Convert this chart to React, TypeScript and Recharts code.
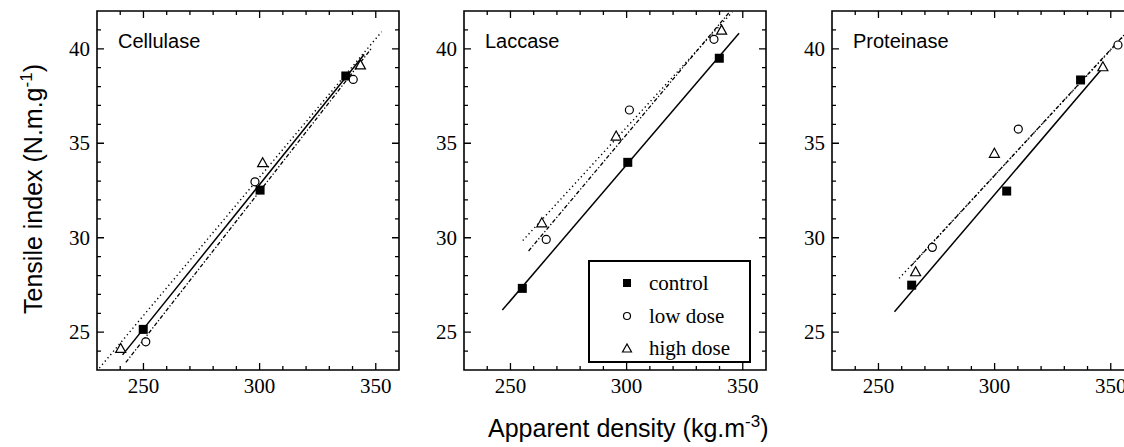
import React from 'react';
import { ComposedChart, Scatter, Line, XAxis, YAxis, Label, Legend, ReferenceArea } from 'recharts';

// axis ticks (minor every 10 / every 1, labels on majors)
const xTicks = [240, 250, 260, 270, 280, 290, 300, 310, 320, 330, 340, 350];
const xMajor = [250, 300, 350];
const yTicks = [24, 25, 26, 27, 28, 29, 30, 31, 32, 33, 34, 35, 36, 37, 38, 39, 40, 41];
const yMajor = [25, 30, 35, 40];

// Cellulase
const cellControl = [{ x: 249.9, y: 25.15 }, { x: 300.2, y: 32.52 }, { x: 337.1, y: 38.56 }];
const cellLow = [{ x: 251.0, y: 24.49 }, { x: 298.0, y: 32.96 }, { x: 340.3, y: 38.38 }];
const cellHigh = [{ x: 240.2, y: 24.14 }, { x: 301.3, y: 33.97 }, { x: 343.4, y: 39.15 }];
const cellControlFit = [{ x: 241, y: 23.8 }, { x: 345, y: 39.7 }];
const cellLowFit = [{ x: 242.4, y: 23.4 }, { x: 348, y: 40.0 }];
const cellHighFit = [{ x: 231, y: 23.1 }, { x: 352.5, y: 40.9 }];

// Laccase
const lacControl = [{ x: 255.1, y: 27.32 }, { x: 300.5, y: 33.99 }, { x: 339.9, y: 39.5 }];
const lacLow = [{ x: 265.4, y: 29.91 }, { x: 301.2, y: 36.76 }, { x: 337.6, y: 40.5 }];
const lacHigh = [{ x: 263.5, y: 30.79 }, { x: 295.5, y: 35.38 }, { x: 340.9, y: 40.99 }];
const lacControlFit = [{ x: 246.5, y: 26.17 }, { x: 348.4, y: 40.82 }];
const lacLowFit = [{ x: 257.8, y: 29.3 }, { x: 344, y: 41.9 }];
const lacHighFit = [{ x: 255.3, y: 29.85 }, { x: 345.5, y: 41.95 }];

// Proteinase
const proControl = [{ x: 264.3, y: 27.49 }, { x: 305.2, y: 32.47 }, { x: 337.0, y: 38.35 }];
const proLow = [{ x: 273.2, y: 29.49 }, { x: 310.2, y: 35.75 }, { x: 353.1, y: 40.2 }];
const proHigh = [{ x: 266.0, y: 28.2 }, { x: 299.9, y: 34.47 }, { x: 346.6, y: 39.05 }];
const proControlFit = [{ x: 256.9, y: 26.08 }, { x: 346.5, y: 38.98 }];
const proLowFit = [{ x: 264, y: 28.5 }, { x: 360, y: 41.3 }];
const proHighFit = [{ x: 258.9, y: 27.85 }, { x: 358, y: 41.0 }];

const SERIF = '"Liberation Serif", "Times New Roman", serif';
const SANS = '"Liberation Sans", Arial, sans-serif';

const PLOT_W = 302;
const PLOT_H = 359;
const AXIS_W = 95;
const CHART_W = AXIS_W + PLOT_W + 12;
const CHART_H = 447;

// bottom axis tick: inward mark at bottom and mirrored one at the top frame
const BottomTick = (props: any) => {
  const { x, y, payload } = props;
  const major = xMajor.includes(payload.value);
  const len = major ? 7 : 4;
  const top = y - PLOT_H;
  return (
    <g>
      <path d={`M${x},${y}V${y - len}M${x},${top}V${top + len}`} stroke="#000" strokeWidth={1.3} fill="none" />
      {major && (
        <text
          x={x}
          y={y + 16}
          textAnchor="middle"
          dominantBaseline="central"
          style={{ fontFamily: SERIF, fontSize: 21 }}
          fill="#000"
        >
          {payload.value}
        </text>
      )}
    </g>
  );
};

// left axis tick: inward mark at left and mirrored one at the right frame
const LeftTick = (props: any) => {
  const { x, y, payload } = props;
  const major = yMajor.includes(payload.value);
  const len = major ? 7 : 4;
  const right = x + PLOT_W;
  return (
    <g>
      <path d={`M${x},${y}H${x + len}M${right},${y}H${right - len}`} stroke="#000" strokeWidth={1.3} fill="none" />
      {major && (
        <text
          x={x - 7}
          y={y}
          textAnchor="end"
          dominantBaseline="central"
          style={{ fontFamily: SERIF, fontSize: 21 }}
          fill="#000"
        >
          {payload.value}
        </text>
      )}
    </g>
  );
};

const squareShape = (p: any) => <rect x={p.cx - 4.5} y={p.cy - 4.5} width={9} height={9} fill="#000" />;
const circleShape = (p: any) => <circle cx={p.cx} cy={p.cy} r={4} fill="#fff" stroke="#000" strokeWidth={1.2} />;
const triangleShape = (p: any) => (
  <polygon
    points={`${p.cx - 5},${p.cy + 4} ${p.cx + 5},${p.cy + 4} ${p.cx},${p.cy - 5}`}
    fill="#fff"
    stroke="#000"
    strokeWidth={1.2}
  />
);

const LegendBox = () => (
  <div
    style={{
      width: 163,
      height: 103,
      border: '2px solid #000',
      boxSizing: 'border-box',
      background: '#fff',
      fontFamily: SERIF,
      fontSize: 21,
      color: '#000',
      position: 'relative',
    }}
  >
    {[
      { name: 'control', icon: <rect x={4} y={4} width={8} height={8} fill="#000" /> },
      { name: 'low dose', icon: <circle cx={8} cy={8} r={3.5} fill="none" stroke="#000" strokeWidth={1.2} /> },
      { name: 'high dose', icon: <polygon points="3.5,12 12.5,12 8,4" fill="none" stroke="#000" strokeWidth={1.2} /> },
    ].map((item, i) => (
      <div key={item.name} style={{ position: 'absolute', left: 29, top: 6 + i * 32.5, height: 30, display: 'flex', alignItems: 'center' }}>
        <svg width={16} height={16} style={{ display: 'block' }}>
          {item.icon}
        </svg>
        <span style={{ marginLeft: 14, lineHeight: '30px' }}>{item.name}</span>
      </div>
    ))}
  </div>
);

interface PanelProps {
  title: string;
  left: number;
  control: { x: number; y: number }[];
  low: { x: number; y: number }[];
  high: { x: number; y: number }[];
  controlFit: { x: number; y: number }[];
  lowFit: { x: number; y: number }[];
  highFit: { x: number; y: number }[];
  yTitle?: boolean;
  xTitle?: boolean;
  legend?: boolean;
}

function Panel({ title, left, control, low, high, controlFit, lowFit, highFit, yTitle, xTitle, legend }: PanelProps) {
  return (
    <div style={{ position: 'absolute', left, top: 0 }}>
      <ComposedChart width={CHART_W} height={CHART_H} margin={{ top: 11, right: 12, bottom: 47, left: 0 }}>
        <XAxis
          type="number"
          dataKey="x"
          domain={[230, 360]}
          ticks={xTicks}
          interval={0}
          height={30}
          tickSize={0}
          tickMargin={0}
          tickLine={false}
          tick={BottomTick}
          axisLine={false}
        >
          {xTitle && (
            <Label
              content={(p: any) => (
                <text x={p.viewBox.x + 24} y={p.viewBox.y + 67} style={{ fontFamily: SANS, fontSize: 25 }} fill="#000">
                  Apparent density (kg.m<tspan dy={-10} style={{ fontSize: 17 }}>-3</tspan>
                  <tspan dy={10}>)</tspan>
                </text>
              )}
            />
          )}
        </XAxis>
        <YAxis
          type="number"
          dataKey="y"
          domain={[23, 42]}
          ticks={yTicks}
          interval={0}
          width={AXIS_W}
          tickSize={0}
          tickMargin={0}
          tickLine={false}
          tick={LeftTick}
          axisLine={false}
        >
          {yTitle && (
            <Label
              content={(p: any) => {
                const cx = p.viewBox.x + 40;
                const cy = 189;
                return (
                  <text
                    x={cx}
                    y={cy}
                    transform={`rotate(-90 ${cx} ${cy})`}
                    textAnchor="middle"
                    style={{ fontFamily: SANS, fontSize: 25 }}
                    fill="#000"
                  >
                    Tensile index (N.m.g<tspan dy={-10} style={{ fontSize: 17 }}>-1</tspan>
                    <tspan dy={10}>)</tspan>
                  </text>
                );
              }}
            />
          )}
        </YAxis>
        <ReferenceArea
          x1={230}
          x2={360}
          y1={23}
          y2={42}
          fill="none"
          fillOpacity={0}
          stroke="#000"
          strokeWidth={1.6}
          strokeOpacity={1}
          label={(p: any) => (
            <text x={p.viewBox.x + 21} y={p.viewBox.y + 37} style={{ fontFamily: SANS, fontSize: 20 }} fill="#000">
              {title}
            </text>
          )}
        />
        <Line data={highFit} dataKey="y" stroke="#000" strokeWidth={1.4} strokeDasharray="1.3 3" dot={false} isAnimationActive={false} />
        <Line data={lowFit} dataKey="y" stroke="#000" strokeWidth={1.3} strokeDasharray="4 2 1.3 2" dot={false} isAnimationActive={false} />
        <Line data={controlFit} dataKey="y" stroke="#000" strokeWidth={1.5} dot={false} isAnimationActive={false} />
        <Scatter data={control} shape={squareShape} isAnimationActive={false} />
        <Scatter data={low} shape={circleShape} isAnimationActive={false} />
        <Scatter data={high} shape={triangleShape} isAnimationActive={false} />
        {legend && (
          <Legend
            layout="vertical"
            align="center"
            verticalAlign="middle"
            wrapperStyle={{ left: 588 - left, top: 260, width: 163, height: 103, right: 'auto', bottom: 'auto' }}
            content={() => <LegendBox />}
          />
        )}
      </ComposedChart>
    </div>
  );
}

export default function App() {
  return (
    <div
      style={{
        position: 'absolute',
        left: 0,
        top: 0,
        width: 1124,
        height: 447,
        overflow: 'hidden',
        background: '#fff',
      }}
    >
      <Panel
        title="Cellulase"
        left={97 - AXIS_W}
        control={cellControl}
        low={cellLow}
        high={cellHigh}
        controlFit={cellControlFit}
        lowFit={cellLowFit}
        highFit={cellHighFit}
        yTitle
      />
      <Panel
        title="Laccase"
        left={464 - AXIS_W}
        control={lacControl}
        low={lacLow}
        high={lacHigh}
        controlFit={lacControlFit}
        lowFit={lacLowFit}
        highFit={lacHighFit}
        xTitle
        legend
      />
      <Panel
        title="Proteinase"
        left={832 - AXIS_W}
        control={proControl}
        low={proLow}
        high={proHigh}
        controlFit={proControlFit}
        lowFit={proLowFit}
        highFit={proHighFit}
      />
    </div>
  );
}
